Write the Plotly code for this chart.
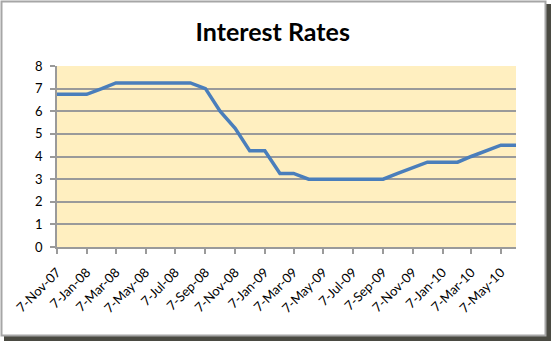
import plotly.graph_objects as go

# Monthly cash-rate observations (7th of each month)
dates = [
    "2007-11-07", "2007-12-07", "2008-01-07", "2008-02-07", "2008-03-07",
    "2008-04-07", "2008-05-07", "2008-06-07", "2008-07-07", "2008-08-07",
    "2008-09-07", "2008-10-07", "2008-11-07", "2008-12-07", "2009-01-07",
    "2009-02-07", "2009-03-07", "2009-04-07", "2009-05-07", "2009-06-07",
    "2009-07-07", "2009-08-07", "2009-09-07", "2009-10-07", "2009-11-07",
    "2009-12-07", "2010-01-07", "2010-02-07", "2010-03-07", "2010-04-07",
    "2010-05-07", "2010-06-07",
]
rates = [
    6.75, 6.75, 6.75, 7.00, 7.25,
    7.25, 7.25, 7.25, 7.25, 7.25,
    7.00, 6.00, 5.25, 4.25, 4.25,
    3.25, 3.25, 3.00, 3.00, 3.00,
    3.00, 3.00, 3.00, 3.25, 3.50,
    3.75, 3.75, 3.75, 4.00, 4.25,
    4.50, 4.50,
]

# Axis tick positions and labels (every second month)
tick_dates = [
    "2007-11-07", "2008-01-07", "2008-03-07", "2008-05-07", "2008-07-07",
    "2008-09-07", "2008-11-07", "2009-01-07", "2009-03-07", "2009-05-07",
    "2009-07-07", "2009-09-07", "2009-11-07", "2010-01-07", "2010-03-07",
    "2010-05-07",
]
tick_labels = [
    "7-Nov-07", "7-Jan-08", "7-Mar-08", "7-May-08", "7-Jul-08",
    "7-Sep-08", "7-Nov-08", "7-Jan-09", "7-Mar-09", "7-May-09",
    "7-Jul-09", "7-Sep-09", "7-Nov-09", "7-Jan-10", "7-Mar-10",
    "7-May-10",
]
y_ticks = [0, 1, 2, 3, 4, 5, 6, 7, 8]

W, H = 551, 341
L, R, T, B = 57, 35, 66, 94
pw, ph = W - L - R, H - T - B


def px_x(p):
    return (p - L) / pw


def px_y(p):
    return (H - B - p) / ph


fig = go.Figure()
fig.add_trace(go.Scatter(
    x=dates, y=rates, mode="lines",
    line=dict(color="#4A7EBB", width=3.5),
    hoverinfo="x+y",
))

shapes = [
    # drop shadow
    dict(type="rect", xref="paper", yref="paper", layer="below",
         x0=px_x(546), x1=px_x(551), y0=px_y(341), y1=px_y(4),
         fillcolor="#4a4a42", line=dict(width=0)),
    dict(type="rect", xref="paper", yref="paper", layer="below",
         x0=px_x(4), x1=px_x(551), y0=px_y(341), y1=px_y(336),
         fillcolor="#4a4a42", line=dict(width=0)),
    # chart frame
    dict(type="rect", xref="paper", yref="paper", layer="below",
         x0=px_x(1.5), x1=px_x(545.5), y0=px_y(335.5), y1=px_y(1.5),
         fillcolor="rgba(0,0,0,0)", line=dict(color="#a6a6a6", width=2)),
]

fig.update_layout(
    width=W, height=H,
    margin=dict(l=L, r=R, t=T, b=B),
    paper_bgcolor="white",
    plot_bgcolor="#FFEFC0",
    showlegend=False,
    shapes=shapes,
    font=dict(family="Lato, Carlito, Calibri, sans-serif", color="#000000"),
    title=dict(text="<b>Interest Rates</b>", x=0.495, xanchor="center",
               y=1 - 32 / H, yanchor="middle",
               font=dict(size=25, family="Lato, Calibri, sans-serif")),
    xaxis=dict(
        type="date",
        range=[dates[0], dates[-1]],
        tickmode="array", tickvals=tick_dates, ticktext=tick_labels,
        tickangle=-45, tickfont=dict(size=13),
        showgrid=False, zeroline=False,
        showline=True, linecolor="#9a9a9a", linewidth=1.5,
        ticks="outside", ticklen=5, tickcolor="#9a9a9a", tickwidth=1.5,
        ticklabelstandoff=6,
    ),
    yaxis=dict(
        range=[0, 8], tickmode="array", tickvals=y_ticks,
        tickfont=dict(size=13),
        showgrid=True, gridcolor="#9a9a9a", gridwidth=1.5,
        zeroline=False,
        showline=True, linecolor="#9a9a9a", linewidth=1.5,
        ticks="outside", ticklen=5, tickcolor="#9a9a9a", tickwidth=1.5,
        ticklabelstandoff=5,
    ),
)

fig.write_html("out.html")
